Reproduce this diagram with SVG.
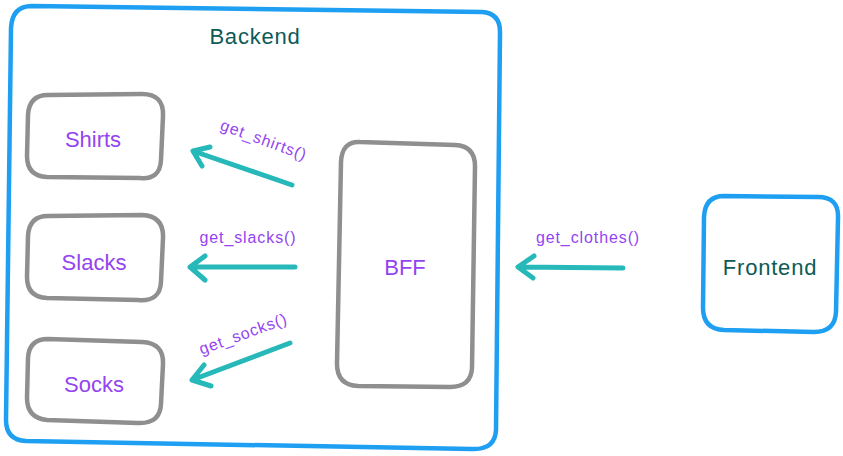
<svg xmlns="http://www.w3.org/2000/svg" width="843" height="456" viewBox="0 0 843 456">
<defs>
<style>
.blue{fill:none;stroke:#1e9ff2;stroke-width:4.5;stroke-linecap:round;stroke-linejoin:round}
.grey{fill:none;stroke:#8f8f8f;stroke-width:4.5;stroke-linecap:round;stroke-linejoin:round}
.arr{fill:none;stroke:#27b9b9;stroke-width:5;stroke-linecap:round;stroke-linejoin:round}
.lbl{font-family:"Liberation Sans",Arial,sans-serif;fill:#9444f0;text-anchor:middle}
.node{font-size:22px}
.edge{font-size:16px;letter-spacing:0.9px}
.dark{font-family:"Liberation Sans",Arial,sans-serif;fill:#0d5a57;text-anchor:middle;font-size:22px;letter-spacing:0.8px}
</style>
</defs>
<rect width="843" height="456" fill="#ffffff"/>
<g id="backend">
<path class="blue" d="M32 6 L482 12 Q500 13 500 32 L496 430 Q495 450 472 449 L26 441 Q6 440 6 420 L11 28 Q12 6 32 6 Z"/>
<text class="dark" x="255" y="44">Backend</text>
</g>
<g id="shirts">
<path class="grey" d="M48 95 L142 94 Q164 94 163 116 L161 160 Q160 180 140 178 L47 177 Q27 176 27 156 L28 115 Q29 95 48 95 Z"/>
<text class="lbl node" x="93" y="147">Shirts</text>
</g>
<g id="slacks">
<path class="grey" d="M48 216 L142 215 Q164 216 163 238 L161 282 Q160 302 138 300 L47 298 Q27 297 27 277 L28 236 Q29 216 48 216 Z"/>
<text class="lbl node" x="94" y="270">Slacks</text>
</g>
<g id="socks">
<path class="grey" d="M48 339 L142 342 Q164 343 163 364 L161 404 Q160 424 138 423 L47 420 Q27 418 27 398 L28 358 Q29 339 48 339 Z"/>
<text class="lbl node" x="94" y="392">Socks</text>
</g>
<g id="bff">
<path class="grey" d="M360 142 L455 145 Q475 146 475 166 L472 368 Q471 387 450 387 L358 386 Q337 385 337 364 L341 162 Q342 141 360 142 Z"/>
<text class="lbl node" x="405" y="275">BFF</text>
</g>
<g id="frontend">
<path class="blue" d="M724 196 L818 197 Q839 197 838 218 L836 312 Q835 332 814 332 L724 330 Q703 329 703 308 L704 217 Q705 196 724 196 Z"/>
<text class="dark" x="770" y="275">Frontend</text>
</g>
<g id="connectors">
<path class="arr" d="M292 185 L193 151 M202 166 L193 151 L210 147"/>
<text class="lbl edge" transform="translate(262,145) rotate(20)">get_shirts()</text>
<path class="arr" d="M295 267 L190 267 M205 256 L190 267 L205 280"/>
<text class="lbl edge" x="248" y="243">get_slacks()</text>
<path class="arr" d="M290 343 L192 380 M204 365 L192 380 L211 386"/>
<text class="lbl edge" transform="translate(245,339) rotate(-20)">get_socks()</text>
<path class="arr" d="M623 268 L518 267 M534 256 L518 267 L533 278"/>
<text class="lbl edge" x="588" y="243">get_clothes()</text>
</g>
</svg>
